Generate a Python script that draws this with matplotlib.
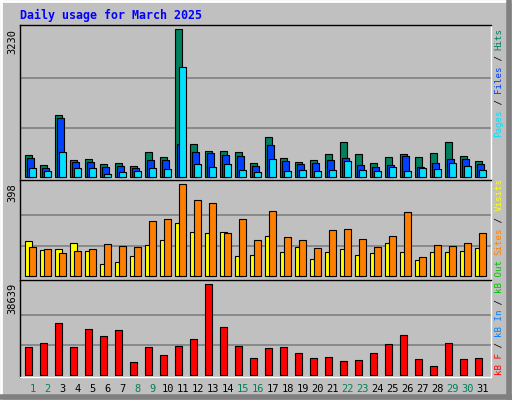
import matplotlib
matplotlib.use("Agg")
import matplotlib.pyplot as plt
import numpy as np
from matplotlib.lines import Line2D

days = list(range(1, 32))
hits = [490, 270, 1360, 380, 400, 290, 315, 250, 555, 445, 3230, 730, 575, 575, 555, 315,
        880, 425, 335, 380, 510, 770, 510, 315, 445, 510, 445, 530, 770, 465, 360]
files = [425, 205, 1295, 335, 335, 225, 250, 205, 380, 380, 730, 555, 530, 490, 465, 250,
         705, 360, 290, 315, 380, 425, 270, 225, 270, 465, 225, 315, 400, 400, 290]
pages = [205, 140, 555, 205, 205, 75, 120, 140, 205, 185, 2390, 290, 225, 290, 160, 120,
         400, 140, 160, 140, 160, 360, 160, 140, 225, 140, 205, 185, 315, 250, 160]
visits = [151, 113, 117, 143, 108, 52, 61, 87, 134, 156, 230, 191, 186, 191, 87, 91,
          173, 104, 126, 74, 104, 117, 91, 100, 143, 104, 69, 104, 104, 108, 121]
sites = [126, 117, 100, 108, 117, 139, 130, 126, 238, 247, 398, 329, 316, 186, 247, 156,
         281, 169, 156, 121, 199, 203, 160, 126, 173, 277, 82, 134, 130, 143, 186]
kbytes = [11900, 13590, 22080, 11900, 19530, 16560, 19110, 5520, 11900, 8490, 12310, 15290,
          38639, 20380, 12310, 7220, 11460, 11900, 9340, 7220, 7640, 5940, 6370, 9340,
          13160, 16980, 6790, 3820, 13590, 6790, 7220]
weekends = [1, 2, 8, 9, 15, 16, 22, 23, 29, 30]

BG = "#C0C0C0"
W, H = 512, 400
fig = plt.figure(figsize=(5.12, 4.0), dpi=100)
fig.patch.set_facecolor(BG)


def px_axes(x0, y0, x1, y1):
    return fig.add_axes([x0 / W, 1 - y1 / H, (x1 - x0) / W, (y1 - y0) / H])


# day d bar left edge at pixel 25 + 15*(d-1)
xl = (1 + (20 - 25) / 15, 1 + (491 - 25) / 15)
x = np.array(days, dtype=float)
bw = 7.4 / 15
off = 2 / 15


def style(ax, ylim, maxv):
    ax.set_facecolor(BG)
    ax.set_xlim(*xl)
    ax.set_ylim(*ylim)
    ax.set_xticks([])
    ax.set_yticks([])
    for v in (maxv / 3, 2 * maxv / 3):
        ax.axhline(v, color="#808080", lw=1.2, zorder=0)
    for s in ax.spines.values():
        s.set_color("black")
        s.set_linewidth(1)
    ax.spines["bottom"].set_color("white")
    ax.spines["right"].set_color("white")


kw = dict(align="edge", width=bw, edgecolor="black", linewidth=0.8)

ax1 = px_axes(20, 25, 491, 180)
style(ax1, (-65, 3317), 3230)
ax1.bar(x, hits, color="#00805C", **kw)
ax1.bar(x + off, files, color="#0040FF", **kw)
ax1.bar(x + 2 * off, pages, color="#00E0FF", **kw)

ax2 = px_axes(20, 180, 491, 280)
style(ax2, (-16, 417), 398)
ax2.bar(x, visits, color="#FFFF00", **kw)
ax2.bar(x + 2 * off, sites, color="#FF8000", **kw)

ax3 = px_axes(20, 280, 491, 377)
style(ax3, (-722, 40464), 38639)
ax3.bar(x, kbytes, color="#FF0000", **kw)

for d in days:
    ax3.text(d + 0.5, -0.12, str(d), transform=ax3.get_xaxis_transform(),
             ha="center", va="center", family="DejaVu Sans Mono", fontsize=7.5,
             color="#00805C" if d in weekends else "black")

mono = "DejaVu Sans Mono"
fig.text(20 / W, 1 - 15 / H, "Daily usage for March 2025", color="#0000FF",
         family=mono, fontweight="bold", fontsize=8.4, va="center", ha="left")

for lab, ytop in (("3230", 29), ("398", 183), ("38639", 283)):
    fig.text(12 / W, 1 - ytop / H, lab, rotation=90, family=mono, fontsize=7.5,
             ha="center", va="top")


def vlabel(parts, ybottom):
    step = 5.45
    y = ybottom
    for txt, col in parts:
        fig.text(499 / W, 1 - y / H, txt, rotation=90, rotation_mode="anchor",
                 ha="left", va="center", family=mono, fontsize=6.6, color=col)
        y -= step * len(txt)


vlabel([("Pages", "#00E0FF"), (" / ", "black"), ("Files", "#0040FF"),
        (" / ", "black"), ("Hits", "#00805C")], 137)
vlabel([("kB F", "#FF0000"), (" / ", "black"), ("kB In", "#0080FF"), (" / ", "black"),
        ("kB Out", "#00C000"), (" ", "black"), ("Sites", "#FF8000"), (" / ", "black"),
        ("Visits", "#FFFF00")], 375)

# 3D style outer border
fig.add_artist(Line2D([0, 1], [1 - 0.5 / H] * 2, color="white", lw=2))
fig.add_artist(Line2D([0.5 / W] * 2, [0, 1], color="white", lw=2))
fig.add_artist(Line2D([1 - 3 / W] * 2, [0, 1], color="#808080", lw=4))
fig.add_artist(Line2D([0, 1], [3 / H] * 2, color="#808080", lw=4))

fig.savefig("out.png", dpi=100, facecolor=BG)
